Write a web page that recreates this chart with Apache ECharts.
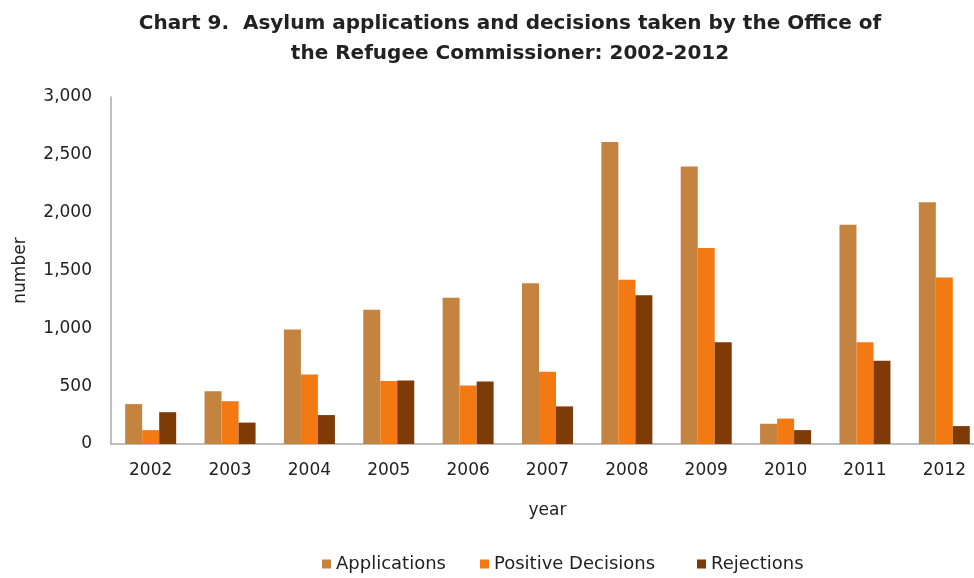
<!DOCTYPE html>
<html>
<head>
<meta charset="utf-8">
<script src="https://cdn.jsdelivr.net/npm/echarts@6/dist/echarts.min.js"></script>
<style>html,body{margin:0;padding:0;background:#fff}#c{width:974px;height:578px}</style>
</head>
<body>
<div id="c"></div>
<script>
const years = ['2002','2003','2004','2005','2006','2007','2008','2009','2010','2011','2012'];
const applications = [345, 455, 990, 1160, 1265, 1390, 2610, 2400, 175, 1895, 2090];
const positiveDecisions = [120, 370, 600, 545, 505, 625, 1420, 1695, 220, 880, 1440];
const rejections = [275, 185, 250, 550, 540, 325, 1285, 880, 120, 720, 155];
const yTicks = [0, 500, 1000, 1500, 2000, 2500, 3000];
const seriesNames = ['Applications', 'Positive Decisions', 'Rejections'];

const FONT = 'DejaVu Sans, sans-serif';
const chart = echarts.init(document.getElementById('c'));
const legendLefts = [322, 480, 697];
chart.setOption({
  animation: false,
  backgroundColor: '#fff',
  color: ['#C4833F', '#F37A13', '#7E3B06'],
  title: {
    text: 'Chart 9.  Asylum applications and decisions taken by the Office of\nthe Refugee Commissioner: 2002-2012',
    left: 505,
    top: 4,
    textAlign: 'center',
    textStyle: { fontFamily: FONT, fontSize: 20, fontWeight: 'bold', color: '#222', lineHeight: 30 }
  },
  legend: seriesNames.map((n, i) => ({
    left: legendLefts[i],
    top: 555,
    padding: 0,
    itemWidth: 9,
    itemHeight: 9,
    icon: 'rect',
    textStyle: { fontFamily: FONT, fontSize: 18, color: '#222' },
    data: [n]
  })),
  grid: { left: 111, top: 97, width: 873, height: 347, outerBoundsMode: 'none', containLabel: false },
  xAxis: {
    type: 'category',
    data: years,
    name: 'year',
    nameLocation: 'middle',
    nameGap: 58,
    nameTextStyle: { fontFamily: FONT, fontSize: 17, color: '#222' },
    axisLine: { lineStyle: { color: '#aaa', width: 1.5 } },
    axisTick: { show: false },
    axisLabel: { fontFamily: FONT, fontSize: 17, color: '#222', margin: 18 }
  },
  yAxis: {
    type: 'value',
    min: yTicks[0],
    max: yTicks[yTicks.length - 1],
    interval: yTicks[1] - yTicks[0],
    name: 'number',
    nameLocation: 'middle',
    nameGap: 82,
    nameRotate: 90,
    nameTextStyle: { fontFamily: FONT, fontSize: 17, color: '#222' },
    axisLine: { show: true, lineStyle: { color: '#aaa', width: 1.5 } },
    axisTick: { show: false },
    splitLine: { show: false },
    axisLabel: {
      fontFamily: FONT, fontSize: 17, color: '#222', margin: 19,
      formatter: v => v.toLocaleString('en-US')
    }
  },
  series: seriesNames.map((n, i) => ({
    name: n, type: 'bar', data: [applications, positiveDecisions, rejections][i], barWidth: 17, barGap: '0%'
  }))
});
</script>
</body>
</html>
